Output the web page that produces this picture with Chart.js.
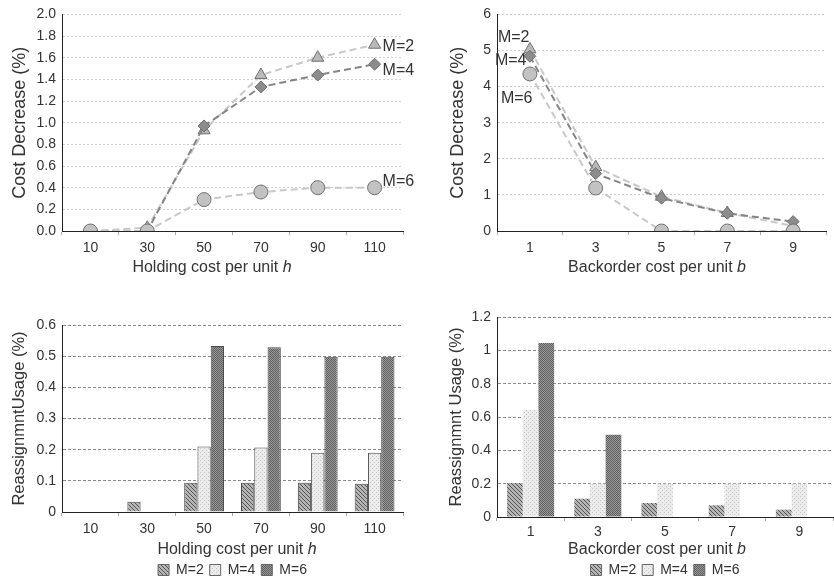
<!DOCTYPE html>
<html lang="en">
<head>
  <meta charset="UTF-8">
  <title>Cost decrease and reassignment usage</title>
  <script src="https://cdn.jsdelivr.net/npm/chart.js@4.4.1/dist/chart.umd.min.js"></script>
  <style>
    body { margin: 0; background: #fff; overflow: hidden; }
    .panel { position: absolute; }
  </style>
</head>
<body>
  <div class="panel" style="left:0;top:0"><canvas id="holding-cost" width="420" height="290"></canvas></div>
  <div class="panel" style="left:420px;top:0"><canvas id="backorder-cost" width="414" height="290"></canvas></div>
  <div class="panel" style="left:0;top:300px"><canvas id="holding-usage" width="420" height="287"></canvas></div>
  <div class="panel" style="left:420px;top:300px"><canvas id="backorder-usage" width="414" height="287"></canvas></div>

  <script>
    // categories
    const holdingLabels = ['10', '30', '50', '70', '90', '110']
    const backorderLabels = ['1', '3', '5', '7', '9']
    const seriesNames = ['M=2', 'M=4', 'M=6']

    // cost decrease (%)
    const holdingCostM2 = [0, 0.03, 0.93, 1.44, 1.60, 1.72]
    const holdingCostM4 = [0, 0, 0.97, 1.33, 1.44, 1.54]
    const holdingCostM6 = [0, 0, 0.29, 0.36, 0.40, 0.40]

    const backorderCostM2 = [5.03, 1.77, 0.95, 0.50, 0.14]
    const backorderCostM4 = [4.84, 1.59, 0.91, 0.49, 0.26]
    const backorderCostM6 = [4.35, 1.19, 0, 0, 0]

    // reassignment usage (%)
    const holdingUsageM2 = [0, 0.033, 0.094, 0.094, 0.094, 0.091]
    const holdingUsageM4 = [0, 0, 0.21, 0.207, 0.19, 0.19]
    const holdingUsageM6 = [0, 0, 0.533, 0.529, 0.498, 0.498]

    const backorderUsageM2 = [0.204, 0.11, 0.084, 0.07, 0.044]
    const backorderUsageM4 = [0.644, 0.2, 0.2, 0.2, 0.2]
    const backorderUsageM6 = [1.044, 0.494, 0, 0, 0]

    const FONT = '"Liberation Sans", Arial, sans-serif'
    Chart.defaults.font.family = FONT
    Chart.defaults.color = '#333'
    Chart.defaults.animation = false

    function pattern(bg, fg, dots) {
      const c = document.createElement('canvas')
      c.width = 4; c.height = 4
      const g = c.getContext('2d')
      g.fillStyle = bg
      g.fillRect(0, 0, 4, 4)
      g.fillStyle = fg
      dots.forEach(d => g.fillRect(d[0], d[1], 1, 1))
      return g.createPattern(c, 'repeat')
    }
    const hatch = pattern('#b4b4b4', '#555', [[0, 0], [1, 1], [2, 2], [3, 3]])
    const dotted = pattern('#ececec', '#c4c4c4', [[0, 0], [2, 2]])
    const checker = pattern('#9a9a9a', '#5e5e5e', [[0, 0], [2, 0], [1, 1], [3, 1], [0, 2], [2, 2], [1, 3], [3, 3]])

    // draws the x title with an italic variable and the M=.. labels next to points
    const extraText = {
      id: 'extraText',
      afterDraw(chart, args, opts) {
        const ctx = chart.ctx
        const area = chart.chartArea
        ctx.save()
        ctx.fillStyle = '#333'
        ctx.textBaseline = 'middle'
        ctx.textAlign = 'left'
        if (opts.xTitle) {
          const plain = opts.xTitle[0], italic = opts.xTitle[1]
          ctx.font = '16px ' + FONT
          const w1 = ctx.measureText(plain).width
          ctx.font = 'italic 16px ' + FONT
          const w2 = ctx.measureText(italic).width
          const x = opts.xTitleX - (w1 + w2) / 2
          const y = area.bottom + opts.xTitleGap
          ctx.font = '16px ' + FONT
          ctx.fillText(plain, x, y)
          ctx.font = 'italic 16px ' + FONT
          ctx.fillText(italic, x + w1, y)
        }
        ctx.font = '16px ' + FONT
        ;(opts.seriesLabels || []).forEach(l => {
          const pt = chart.getDatasetMeta(l.dataset).data[l.index]
          ctx.fillText(chart.data.datasets[l.dataset].label, pt.x + l.dx, pt.y + l.dy)
        })
        ctx.restore()
      }
    }

    function lineSet(label, data, fill, line, style, radius, order) {
      return {
        label, data, order,
        borderColor: line, borderWidth: 2, borderDash: [7, 4],
        backgroundColor: fill,
        pointStyle: style, pointRadius: radius,
        pointBackgroundColor: fill, pointBorderColor: '#707070', pointBorderWidth: 1
      }
    }

    function barSet(label, data, fill, border) {
      return {
        label, data, backgroundColor: fill,
        borderColor: '#4a4a4a', borderWidth: border,
        categoryPercentage: 0.7, barPercentage: 1
      }
    }

    function xScale(height, padding) {
      return {
        offset: true,
        ticks: { font: { size: 14 }, padding: padding, color: '#333' },
        grid: { offset: true, drawOnChartArea: false, color: '#aaa', tickLength: 4 },
        border: { color: '#222' },
        afterFit: s => { s.height = height }
      }
    }

    function yScale(o) {
      return {
        min: 0, max: o.max,
        ticks: { stepSize: o.step, font: { size: 14 }, padding: 6, color: '#333', callback: o.fmt },
        grid: { color: o.gridColor, drawTicks: false },
        border: { color: '#222', dash: o.dash },
        title: { display: true, text: o.title, font: { size: o.titleSize }, color: '#333', padding: { top: o.titlePad, bottom: 0 } },
        afterFit: s => { s.width = o.width }
      }
    }

    const oneDecimal = v => v.toFixed(1)
    const trimmed = v => String(Math.round(v * 10) / 10)

    new Chart(document.getElementById('holding-cost'), {
      type: 'line',
      data: {
        labels: holdingLabels,
        datasets: [
          lineSet(seriesNames[0], holdingCostM2, '#b9b9b9', '#c8c8c8', 'triangle', 7, 3),
          lineSet(seriesNames[1], holdingCostM4, '#8c8c8c', '#858585', 'rectRot', 6, 2),
          lineSet(seriesNames[2], holdingCostM6, '#c2c2c2', '#c8c8c8', 'circle', 7, 1)
        ]
      },
      options: {
        responsive: false,
        layout: { padding: { top: 12, right: 17, bottom: 0, left: 0 } },
        plugins: {
          legend: { display: false },
          tooltip: { enabled: false },
          extraText: {
            xTitle: ['Holding cost per unit ', 'h'], xTitleX: 212, xTitleGap: 37,
            seriesLabels: [
              { dataset: 0, index: 5, dx: 8, dy: 2 },
              { dataset: 1, index: 5, dx: 8, dy: 6 },
              { dataset: 2, index: 5, dx: 8, dy: -6 }
            ]
          }
        },
        scales: {
          x: xScale(59, 5),
          y: yScale({ max: 2, step: 0.2, fmt: oneDecimal, gridColor: '#cfcfcf', dash: [2, 2],
                      title: 'Cost Decrease (%)', titleSize: 18, titlePad: 9, width: 62 })
        }
      },
      plugins: [extraText]
    })

    new Chart(document.getElementById('backorder-cost'), {
      type: 'line',
      data: {
        labels: backorderLabels,
        datasets: [
          lineSet(seriesNames[0], backorderCostM2, '#b9b9b9', '#c8c8c8', 'triangle', 7, 3),
          lineSet(seriesNames[1], backorderCostM4, '#8c8c8c', '#858585', 'rectRot', 6, 2),
          lineSet(seriesNames[2], backorderCostM6, '#c2c2c2', '#c8c8c8', 'circle', 7, 1)
        ]
      },
      options: {
        responsive: false,
        layout: { padding: { top: 13, right: 1, bottom: 0, left: 0 } },
        plugins: {
          legend: { display: false },
          tooltip: { enabled: false },
          extraText: {
            xTitle: ['Backorder cost per unit ', 'b'], xTitleX: 237, xTitleGap: 37,
            seriesLabels: [
              { dataset: 0, index: 0, dx: -32, dy: -12 },
              { dataset: 1, index: 0, dx: -35, dy: 4 },
              { dataset: 2, index: 0, dx: -29, dy: 25 }
            ]
          }
        },
        scales: {
          x: xScale(59, 5),
          y: yScale({ max: 6, step: 1, fmt: trimmed, gridColor: '#cfcfcf', dash: [2, 2],
                      title: 'Cost Decrease (%)', titleSize: 18, titlePad: 27, width: 77 })
        }
      },
      plugins: [extraText]
    })

    function withBoxBorder(chart) {
      const items = Chart.defaults.plugins.legend.labels.generateLabels(chart)
      items.forEach(i => { i.lineWidth = 1; i.strokeStyle = '#666' })
      return items
    }

    const barLegend = {
      position: 'bottom', fullSize: false,
      labels: { boxWidth: 11, boxHeight: 11, padding: 6, font: { size: 14 }, color: '#333', generateLabels: withBoxBorder }
    }

    new Chart(document.getElementById('holding-usage'), {
      type: 'bar',
      data: {
        labels: holdingLabels,
        datasets: [
          barSet(seriesNames[0], holdingUsageM2, hatch, 1),
          barSet(seriesNames[1], holdingUsageM4, dotted, 1),
          barSet(seriesNames[2], holdingUsageM6, checker, 1)
        ]
      },
      options: {
        responsive: false,
        layout: { padding: { top: 25, right: 17, bottom: 0, left: 0 } },
        plugins: {
          legend: barLegend,
          tooltip: { enabled: false },
          extraText: { xTitle: ['Holding cost per unit ', 'h'], xTitleX: 237, xTitleGap: 38 }
        },
        scales: {
          x: xScale(45, 5),
          y: yScale({ max: 0.6, step: 0.1, fmt: trimmed, gridColor: '#8a8a8a', dash: [3, 2],
                      title: 'ReassignmntUsage (%)', titleSize: 16.5, titlePad: 10, width: 62 })
        }
      },
      plugins: [extraText]
    })

    new Chart(document.getElementById('backorder-usage'), {
      type: 'bar',
      data: {
        labels: backorderLabels,
        datasets: [
          barSet(seriesNames[0], backorderUsageM2, hatch, 0),
          barSet(seriesNames[1], backorderUsageM4, dotted, 0),
          barSet(seriesNames[2], backorderUsageM6, checker, 0)
        ]
      },
      options: {
        responsive: false,
        layout: { padding: { top: 17, right: 1, bottom: 0, left: 0 } },
        plugins: {
          legend: barLegend,
          tooltip: { enabled: false },
          extraText: { xTitle: ['Backorder cost per unit ', 'b'], xTitleX: 237, xTitleGap: 33 }
        },
        scales: {
          x: xScale(40, 3),
          y: yScale({ max: 1.2, step: 0.2, fmt: trimmed, gridColor: '#8a8a8a', dash: [3, 2],
                      title: 'Reassignmnt Usage (%)', titleSize: 16.5, titlePad: 27, width: 77 })
        }
      },
      plugins: [extraText]
    })
  </script>
</body>
</html>
